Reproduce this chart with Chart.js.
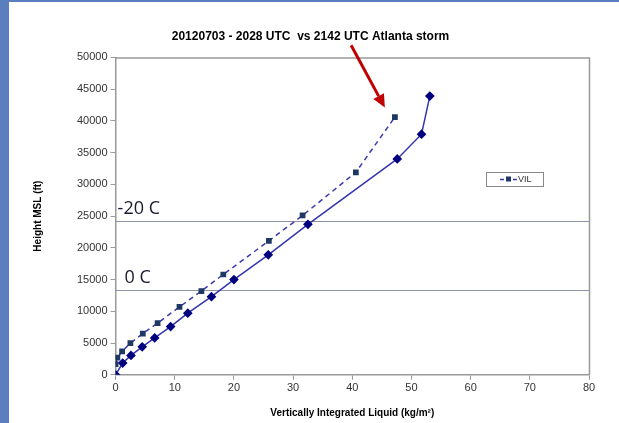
<!DOCTYPE html>
<html>
<head>
<meta charset="utf-8">
<script src="https://cdn.jsdelivr.net/npm/chart.js@4/dist/chart.umd.min.js"></script>
<style>
  html, body { margin: 0; padding: 0; background: #fff; }
  #wrap { position: relative; width: 619px; height: 423px; overflow: hidden; }
  #band-left { position: absolute; left: 0; top: 0; width: 9px; height: 423px; background: #5b7fbe; }
  #band-top { position: absolute; left: 0; top: 0; width: 619px; height: 2px; background: #5b7fbe; }
</style>
</head>
<body>
<div id="wrap">
  <canvas id="grafico" width="619" height="423"></canvas>
  <div id="band-left"></div>
  <div id="band-top"></div>
</div>
<script>
// 2142 UTC (solid, diamonds)
const vil2142 = [0, 1.2, 2.6, 4.5, 6.6, 9.3, 12.2, 16.2, 20.0, 25.8, 32.5, 47.6, 51.7, 53.1];
const alt2142 = [0, 1850, 3050, 4400, 5800, 7600, 9700, 12300, 15000, 18900, 23700, 34000, 37900, 43900];

// 2028 UTC (dashed, squares)
const vil2028 = [0, 0.3, 1.1, 2.5, 4.6, 7.1, 10.8, 14.5, 18.2, 25.9, 31.6, 40.6, 47.2];
const alt2028 = [1700, 2700, 3700, 5000, 6500, 8150, 10700, 13200, 15800, 21100, 25100, 31900, 40600];

// lineas de temperatura
const isotermas = ['-20 C', '0 C'];
const alturasIsotermas = [24300, 13400];

// flecha roja (punta y cola en unidades de datos)
const flechaCola = [39.8, 51900];
const flechaPunta = [45.5, 42100];

const xTicks = [0, 10, 20, 30, 40, 50, 60, 70, 80];

function puntos(xs, ys) {
  return xs.map((x, i) => ({ x: x, y: ys[i] }));
}

// Dibuja marco, isotermas, flecha y leyenda
const extras = {
  id: 'extras',
  beforeDatasetsDraw(chart) {
    const { ctx, chartArea: a, scales } = chart;
    ctx.save();
    ctx.strokeStyle = '#8c93a6';
    ctx.lineWidth = 1;
    alturasIsotermas.forEach((h, i) => {
      const y = Math.round(scales.y.getPixelForValue(h)) + 0.5;
      ctx.beginPath();
      ctx.moveTo(a.left, y);
      ctx.lineTo(a.right, y);
      ctx.stroke();
      ctx.fillStyle = '#1a1a2e';
      ctx.font = '18px "Open Sans", "DejaVu Sans", sans-serif';
      ctx.textBaseline = 'alphabetic';
      ctx.fillText(isotermas[i], a.left + (i === 0 ? 2 : 9), y - 8);
    });
    // marco
    ctx.strokeStyle = '#999';
    ctx.lineWidth = 1.5;
    ctx.beginPath();
    ctx.moveTo(a.left, a.top + 0.5);
    ctx.lineTo(a.right + 0.5, a.top + 0.5);
    ctx.lineTo(a.right + 0.5, a.bottom);
    ctx.stroke();
    ctx.restore();
  },
  afterDatasetsDraw(chart) {
    const { ctx, scales } = chart;
    ctx.save();
    // flecha
    const x0 = scales.x.getPixelForValue(flechaCola[0]);
    const y0 = scales.y.getPixelForValue(flechaCola[1]);
    const x1 = scales.x.getPixelForValue(flechaPunta[0]);
    const y1 = scales.y.getPixelForValue(flechaPunta[1]);
    const ang = Math.atan2(y1 - y0, x1 - x0);
    const largo = 13;
    const bx = x1 - largo * Math.cos(ang);
    const by = y1 - largo * Math.sin(ang);
    ctx.strokeStyle = '#c00000';
    ctx.fillStyle = '#c00000';
    ctx.lineWidth = 3;
    ctx.beginPath();
    ctx.moveTo(x0, y0);
    ctx.lineTo(bx, by);
    ctx.stroke();
    ctx.beginPath();
    ctx.moveTo(x1, y1);
    ctx.lineTo(bx + 6 * Math.cos(ang + Math.PI / 2), by + 6 * Math.sin(ang + Math.PI / 2));
    ctx.lineTo(bx + 6 * Math.cos(ang - Math.PI / 2), by + 6 * Math.sin(ang - Math.PI / 2));
    ctx.closePath();
    ctx.fill();

    // leyenda
    const lx = 486, ly = 172, lw = 57, lh = 14;
    ctx.fillStyle = '#fff';
    ctx.fillRect(lx, ly, lw, lh);
    ctx.strokeStyle = '#888';
    ctx.lineWidth = 1;
    ctx.strokeRect(lx + 0.5, ly + 0.5, lw, lh);
    const cy = ly + lh / 2 + 0.5;
    ctx.strokeStyle = '#3a3ab0';
    ctx.lineWidth = 1.5;
    ctx.beginPath();
    ctx.moveTo(lx + 14, cy); ctx.lineTo(lx + 18, cy);
    ctx.moveTo(lx + 27, cy); ctx.lineTo(lx + 31, cy);
    ctx.stroke();
    ctx.fillStyle = '#1f3864';
    ctx.fillRect(lx + 20, cy - 3, 5, 5);
    ctx.fillStyle = '#333';
    ctx.font = '9px Arial, "Liberation Sans", sans-serif';
    ctx.textBaseline = 'middle';
    ctx.fillText('VIL', lx + 32, cy);
    ctx.restore();
  }
};

window.onload = function () {
  const ctx = document.getElementById('grafico').getContext('2d');
  Chart.defaults.font.family = 'Arial, "Liberation Sans", sans-serif';
  Chart.defaults.color = '#333';

  new Chart(ctx, {
    type: 'scatter',
    data: {
      datasets: [
        {
          label: 'VIL 2142',
          data: puntos(vil2142, alt2142),
          showLine: true,
          borderColor: '#3535b0',
          borderWidth: 1.5,
          pointStyle: 'rectRot',
          pointRadius: 3.8,
          pointBackgroundColor: '#00007f',
          pointBorderColor: '#00007f',
          tension: 0
        },
        {
          label: 'VIL',
          data: puntos(vil2028, alt2028),
          showLine: true,
          borderColor: '#3a3ab0',
          borderWidth: 1.5,
          borderDash: [5, 4],
          pointStyle: 'rect',
          pointRadius: 3,
          pointBackgroundColor: '#1f3864',
          pointBorderColor: '#1f3864',
          tension: 0
        }
      ]
    },
    options: {
      responsive: false,
      animation: false,
      layout: { padding: { left: 32, right: 30, top: 29, bottom: 4 } },
      plugins: {
        legend: { display: false },
        tooltip: { enabled: false },
        title: {
          display: true,
          text: '20120703 - 2028 UTC  vs 2142 UTC Atlanta storm',
          color: '#000',
          font: { size: 12, weight: 'bold' },
          padding: { top: 0, bottom: 14 }
        }
      },
      scales: {
        x: {
          type: 'linear',
          min: 0,
          max: 80,
          afterBuildTicks: axis => { axis.ticks = xTicks.map(v => ({ value: v })); },
          border: { display: true, color: '#999', width: 1.5 },
          grid: { display: true, drawOnChartArea: false, drawTicks: true, tickLength: 5, color: '#999' },
          ticks: { font: { size: 11 }, color: '#333', padding: 2 },
          title: {
            display: true,
            text: 'Vertically Integrated Liquid (kg/m²)',
            color: '#000',
            font: { size: 10, weight: 'bold' },
            padding: { top: 10, bottom: 0 }
          }
        },
        y: {
          type: 'linear',
          min: 0,
          max: 50000,
          border: { display: true, color: '#999', width: 1.5 },
          grid: { display: true, drawOnChartArea: false, drawTicks: true, tickLength: 5, color: '#999' },
          ticks: { stepSize: 5000, font: { size: 11 }, color: '#333', padding: 3, callback: v => String(v) },
          title: {
            display: true,
            text: 'Height MSL (ft)',
            color: '#000',
            font: { size: 10, weight: 'bold' },
            padding: { top: 0, bottom: 30 }
          }
        }
      }
    },
    plugins: [extras]
  });
};
</script>
</body>
</html>
